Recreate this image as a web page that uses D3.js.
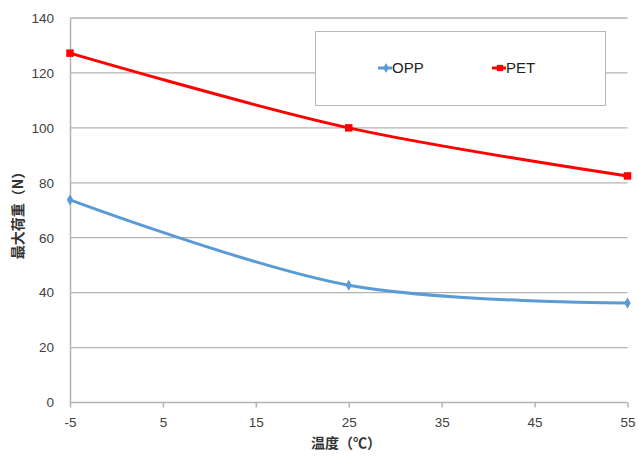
<!DOCTYPE html>
<html>
<head>
<meta charset="utf-8">
<script src="https://cdn.jsdelivr.net/npm/d3@7"></script>
<style>
  html, body { margin: 0; padding: 0; background: #fff; }
  svg { display: block; }
</style>
</head>
<body>
<svg id="chart" width="638" height="458"></svg>
<script>
// Temperature (°C) at which each sample was tested
const temperatures = [-5, 25, 55];
// Maximum load (N) per film type
const oppValues = [73.8, 42.7, 36.2];
const petValues = [127.2, 100, 82.5];
const xTicks = [-5, 5, 15, 25, 35, 45, 55];
const yTicks = [0, 20, 40, 60, 80, 100, 120, 140];
const seriesNames = ["OPP", "PET"];

const series = [
  { name: seriesNames[0], values: oppValues, color: "#5b9bd5", marker: "diamond" },
  { name: seriesNames[1], values: petValues, color: "#ff0000", marker: "square" }
];

const svg = d3.select("#chart");
const margin = { left: 70, right: 10.5, top: 18, bottom: 55.5 };
const W = 638, H = 458;

const x = d3.scaleLinear().domain([-5, 55]).range([margin.left, W - margin.right]);
const y = d3.scaleLinear().domain([0, 140]).range([H - margin.bottom, margin.top]);

const gridColor = "#b3b3b3";
const textColor = "#404040";
const tickFont = "'Liberation Sans', Arial, sans-serif";

// Horizontal gridlines
svg.append("g")
  .selectAll("line")
  .data(yTicks.filter(d => d > 0))
  .join("line")
  .attr("x1", x(-5)).attr("x2", x(55))
  .attr("y1", d => y(d)).attr("y2", d => y(d))
  .attr("stroke", gridColor).attr("stroke-width", 1.3);

// Y axis
const yAxis = svg.append("g")
  .attr("transform", `translate(${x(-5)},0)`)
  .call(d3.axisLeft(y).tickValues(yTicks).tickSize(0).tickPadding(16));
yAxis.select(".domain").attr("stroke", gridColor).attr("stroke-width", 1.5);
yAxis.selectAll("text")
  .attr("font-family", tickFont).attr("font-size", 13.5).attr("fill", textColor);

// X axis
const xAxis = svg.append("g")
  .attr("transform", `translate(0,${y(0)})`)
  .call(d3.axisBottom(x).tickValues(xTicks).tickSize(5).tickPadding(10).tickFormat(d => String(d)));
xAxis.select(".domain").attr("stroke", gridColor).attr("stroke-width", 1.5)
  .attr("d", `M${x(-5)},0H${x(55)}`);
xAxis.selectAll(".tick line").attr("stroke", gridColor).attr("stroke-width", 1.5);
xAxis.selectAll("text")
  .attr("font-family", tickFont).attr("font-size", 13.5).attr("fill", textColor);

// Smoothed series lines
const line = d3.line()
  .x((d, i) => x(temperatures[i]))
  .y(d => y(d))
  .curve(d3.curveCatmullRom.alpha(0.5));

const markerPath = (type, size) =>
  d3.symbol().type(type === "square" ? d3.symbolSquare : d3.symbolDiamond).size(size)();

series.forEach(s => {
  svg.append("path")
    .datum(s.values)
    .attr("d", line)
    .attr("fill", "none")
    .attr("stroke", s.color)
    .attr("stroke-width", 3);
  svg.append("g")
    .selectAll("path")
    .data(s.values)
    .join("path")
    .attr("transform", (d, i) => `translate(${x(temperatures[i])},${y(d)})`)
    .attr("d", markerPath(s.marker, s.marker === "square" ? 56 : 36))
    .attr("fill", s.color);
});

// Legend
const legend = svg.append("g");
legend.append("rect")
  .attr("x", 315.5).attr("y", 31.5).attr("width", 290).attr("height", 74)
  .attr("fill", "#fff").attr("stroke", "#b8b8b8").attr("stroke-width", 1);

const legendX = [378, 492];
series.forEach((s, i) => {
  const g = legend.append("g").attr("transform", `translate(${legendX[i]},68)`);
  g.append("line").attr("x1", 0).attr("x2", 14).attr("y1", 0).attr("y2", 0)
    .attr("stroke", s.color).attr("stroke-width", 3);
  g.append("path").attr("transform", "translate(8,0)")
    .attr("d", markerPath(s.marker, s.marker === "square" ? 40 : 30))
    .attr("fill", s.color);
  g.append("text").attr("x", 14).attr("y", 0).attr("dy", "0.36em")
    .attr("font-family", tickFont).attr("font-size", 15).attr("fill", "#222")
    .text(s.name);
});

// Axis titles
const cjk = "'Noto Sans CJK SC', 'Noto Sans CJK JP', sans-serif";
svg.append("text")
  .attr("x", 346).attr("y", 448)
  .attr("text-anchor", "middle")
  .attr("font-family", cjk).attr("font-weight", "bold").attr("font-size", 14)
  .attr("fill", "#333")
  .text("温度（℃）");

svg.append("text")
  .attr("transform", "translate(23,212) rotate(-90)")
  .attr("text-anchor", "middle")
  .attr("font-family", cjk).attr("font-weight", "bold").attr("font-size", 14)
  .attr("fill", "#333")
  .text("最大荷重（N）");
</script>
</body>
</html>
